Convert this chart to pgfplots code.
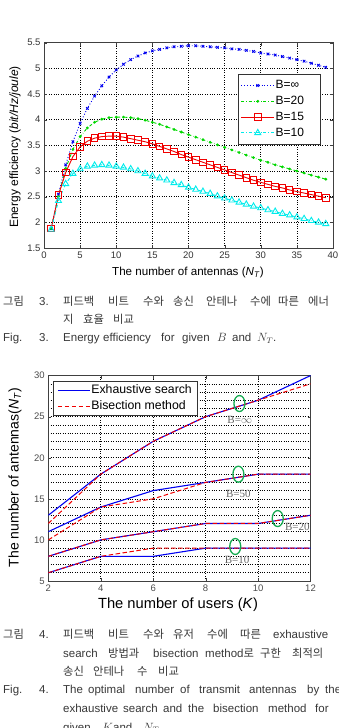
\documentclass[border=0pt]{standalone}
\usepackage{fontspec}
\setmainfont{Liberation Sans}
\newfontfamily\kr{Noto Sans CJK KR}
\newfontfamily\serifb{Liberation Serif}
\usepackage{pgfplots}
\usepackage{pgfplotstable}
\pgfplotsset{compat=1.18}

\definecolor{mgreen}{RGB}{0,215,0}
\definecolor{mcyan}{RGB}{0,235,235}
\definecolor{mblue}{RGB}{0,0,240}
\definecolor{mred}{RGB}{240,0,0}
\definecolor{ringgreen}{RGB}{20,170,80}
\definecolor{captext}{RGB}{55,55,55}

% Energy efficiency versus number of transmit antennas
\pgfplotstableread{
N inf b20 b15 b10
1 1.88 1.88 1.88 1.86
2 2.55 2.50 2.53 2.42
3 3.12 3.05 2.97 2.75
4 3.57 3.42 3.28 2.95
5 3.93 3.67 3.47 3.04
6 4.22 3.84 3.58 3.09
7 4.46 3.95 3.64 3.11
8 4.66 4.01 3.67 3.12
9 4.83 4.04 3.68 3.11
10 4.97 4.05 3.68 3.09
11 5.08 4.05 3.66 3.07
12 5.17 4.04 3.63 3.04
13 5.24 4.02 3.60 3.00
14 5.30 3.99 3.57 2.95
15 5.34 3.95 3.53 2.90
16 5.37 3.91 3.48 2.86
17 5.40 3.86 3.43 2.82
18 5.42 3.81 3.38 2.77
19 5.43 3.76 3.32 2.73
20 5.44 3.71 3.27 2.68
21 5.44 3.66 3.22 2.64
22 5.43 3.61 3.17 2.60
23 5.42 3.56 3.12 2.56
24 5.41 3.51 3.07 2.51
25 5.40 3.46 3.02 2.47
26 5.38 3.41 2.97 2.43
27 5.37 3.36 2.92 2.39
28 5.35 3.31 2.87 2.35
29 5.33 3.26 2.82 2.31
30 5.30 3.21 2.78 2.28
31 5.28 3.17 2.74 2.24
32 5.26 3.12 2.70 2.21
33 5.23 3.08 2.67 2.17
34 5.20 3.04 2.63 2.14
35 5.17 3.00 2.60 2.10
36 5.14 2.96 2.57 2.07
37 5.10 2.92 2.54 2.03
38 5.06 2.88 2.51 2.00
39 5.02 2.84 2.48 1.97
}\eetable

% Optimal number of antennas versus number of users
\pgfplotstableread{
K exinf biinf ex50 bi50 ex20 bi20 ex10 bi10
2 13 12 11 10 8 8 6 6
4 18 18 14 14 10 10 8 8
6 22 22 16 15 11 11 8 9
8 25 25 17 17 12 12 9 9
10 27 27 18 18 12 12 9 9
12 30 29 18 18 13 13 9 9
}\nttable

\newcommand{\w}[3]{\node[anchor=base west,inner sep=0pt,text=captext] at (#1pt,#2pt) {#3};}
\newcommand{\kf}{\kr\fontsize{11.3}{12}\selectfont}
\newcommand{\lf}{\fontsize{11.5}{12}\selectfont}
\newcommand{\legw}[1]{\makebox[40pt][l]{#1}}

\begin{document}
\begin{tikzpicture}
\useasboundingbox (0,0) rectangle (339pt,728pt);
\clip (0,0) rectangle (339pt,728pt);

\begin{axis}[
  at={(44pt,480pt)}, anchor=south west,
  scale only axis, width=289pt, height=205.3pt,
  xmin=0, xmax=40, ymin=1.5, ymax=5.5,
  xtick={0,5,...,40}, ytick={1.5,2,...,5.5},
  grid=major, major grid style={black, dotted, line width=0.6pt},
  tick align=inside, major tick length=3pt,
  axis line style={black!75},
  tick style={black!75},
  ticklabel style={font=\fontsize{9.5}{10}\selectfont, text=black!80},
  /pgf/number format/assume math mode=true,
  legend style={at={(0.670,0.848)}, anchor=north west,
    draw=black!80, fill=white, font=\fontsize{12}{13}\selectfont,
    inner xsep=3pt, inner ysep=3.5pt, row sep=0pt,
    nodes={inner xsep=1pt, inner ysep=0pt, minimum height=15.8pt},
    /tikz/every even column/.append style={column sep=3pt}},
  legend cell align=left,
  legend image code/.code={\draw[mark repeat=2,mark phase=2,#1] plot coordinates {(0pt,0pt) (16.5pt,0pt) (33pt,0pt)};},
]
\addplot[mblue, dotted, line width=0.9pt, mark=x, mark size=1.8pt, mark options={solid}] table[x=N,y=inf] {\eetable};
\addlegendentry{\legw{B=∞}}
\addplot[mgreen, dash dot, line width=0.9pt, mark=*, mark size=0.9pt, mark options={solid}] table[x=N,y=b20] {\eetable};
\addlegendentry{\legw{B=20}}
\addplot[mred, solid, line width=0.9pt, mark=square, mark size=3.3pt, mark options={solid}] table[x=N,y=b15] {\eetable};
\addlegendentry{\legw{B=15}}
\addplot[mcyan, dash dot, line width=0.9pt, mark=triangle, mark size=3.5pt, mark options={solid}] table[x=N,y=b10] {\eetable};
\addlegendentry{\legw{B=10}}
\end{axis}

\node[rotate=90, font=\fontsize{12}{13}\selectfont] at (15pt,581pt) {Energy efficiency (\textit{bit/Hz/joule})};
\node[font=\fontsize{11.6}{12}\selectfont] at (188pt,455pt) {The number of antennas (\textit{N}\textsubscript{\textit{T}})};

% caption of the first figure
\w{3}{422}{\kf 그림} \w{39}{422}{\lf 3.} \w{63}{422}{\kf 피드백} \w{108}{422}{\kf 비트}
\w{143}{422}{\kf 수와} \w{173}{422}{\kf 송신} \w{206}{422}{\kf 안테나} \w{250}{422}{\kf 수에}
\w{278}{422}{\kf 따른} \w{308}{422}{\kf 에너}
\w{63}{404}{\kf 지} \w{83}{404}{\kf 효율} \w{113}{404}{\kf 비교}
\w{3}{386}{\lf Fig.} \w{39}{386}{\lf 3.} \w{63}{386}{\lf Energy} \w{103}{386}{\lf efficiency}
\w{161}{386}{\lf for} \w{182}{386}{\lf given} \w{217}{386}{\lf $B$} \w{232}{386}{\lf and} \w{257}{386}{\lf $N_T$.}

\begin{axis}[
  at={(48.3pt,147pt)}, anchor=south west,
  scale only axis, width=262.2pt, height=205.4pt,
  xmin=2, xmax=12, ymin=5, ymax=30,
  xtick={2,4,...,12}, ytick={5,10,...,30}, minor ytick={6,...,29},
  grid=both, major grid style={black, dotted, line width=0.6pt},
  minor grid style={black, dotted, line width=0.6pt},
  tick align=inside, major tick length=3pt, minor tick length=0pt,
  axis line style={black!75},
  tick style={black!75},
  ticklabel style={font=\fontsize{9.5}{10}\selectfont, text=black!70},
  /pgf/number format/assume math mode=true,
  legend style={at={(0.017,0.974)}, anchor=north west,
    draw=black!80, fill=white, font=\fontsize{12.3}{13}\selectfont,
    inner xsep=4.3pt, inner ysep=1pt, row sep=0pt,
    nodes={inner xsep=1pt, inner ysep=0pt, minimum height=16pt},
    /tikz/every even column/.append style={column sep=1pt}},
  legend cell align=left,
  legend image code/.code={\draw[#1] (0pt,0pt) -- (32pt,0pt);},
]
\addplot[mblue, line width=1.1pt] table[x=K,y=exinf] {\nttable};
\addlegendentry{Exhaustive search}
\addplot[mred, line width=1pt, dash pattern=on 4.5pt off 2.5pt] table[x=K,y=biinf] {\nttable};
\addlegendentry{Bisection method}
\addplot[mblue, line width=1.1pt, forget plot] table[x=K,y=ex50] {\nttable};
\addplot[mred, line width=1pt, dash pattern=on 4.5pt off 2.5pt, forget plot] table[x=K,y=bi50] {\nttable};
\addplot[mblue, line width=1.1pt, forget plot] table[x=K,y=ex20] {\nttable};
\addplot[mred, line width=1pt, dash pattern=on 4.5pt off 2.5pt, forget plot] table[x=K,y=bi20] {\nttable};
\addplot[mblue, line width=1.1pt, forget plot] table[x=K,y=ex10] {\nttable};
\addplot[mred, line width=1pt, dash pattern=on 4.5pt off 2.5pt, forget plot] table[x=K,y=bi10] {\nttable};

\draw[ringgreen, line width=1.3pt] (axis cs:9.29,26.6) ellipse [x radius=5.5pt, y radius=8pt];
\draw[ringgreen, line width=1.3pt] (axis cs:9.25,18.0) ellipse [x radius=5.5pt, y radius=8pt];
\draw[ringgreen, line width=1.3pt] (axis cs:10.75,12.6) ellipse [x radius=5.5pt, y radius=8pt];
\draw[ringgreen, line width=1.3pt] (axis cs:9.13,9.2) ellipse [x radius=5.5pt, y radius=8pt];
\node[text=black!60, font=\serifb\fontsize{11}{12}\selectfont] at (axis cs:9.3,24.6) {B=$\infty$};
\node[text=black!60, font=\serifb\fontsize{11}{12}\selectfont] at (axis cs:9.25,15.6) {B=50};
\node[text=black!60, font=\serifb\fontsize{11}{12}\selectfont] at (axis cs:11.5,11.6) {B=20};
\node[text=black!60, font=\serifb\fontsize{11}{12}\selectfont] at (axis cs:9.2,7.6) {B=10};
\end{axis}

\node[rotate=90, font=\fontsize{14}{15}\selectfont] at (15pt,250.5pt) {The number of antennas(\textit{N}\textsubscript{\textit{T}})};
\node[font=\fontsize{14.7}{15}\selectfont] at (178pt,123pt) {The number of users (\textit{K})};

% caption of the second figure
\w{3}{89}{\kf 그림} \w{39}{89}{\lf 4.} \w{63}{89}{\kf 피드백} \w{108}{89}{\kf 비트}
\w{143}{89}{\kf 수와} \w{173}{89}{\kf 유저} \w{207}{89}{\kf 수에} \w{240}{89}{\kf 따른}
\w{273}{89}{\lf exhaustive}
\w{63}{70}{\lf search} \w{108}{70}{\kf 방법과} \w{153}{70}{\lf bisection}
\w{205}{70}{\lf method{\kf 로}} \w{260}{70}{\kf 구한} \w{292}{70}{\kf 최적의}
\w{63}{52}{\kf 송신} \w{93}{52}{\kf 안테나} \w{137}{52}{\kf 수} \w{158}{52}{\kf 비교}
\w{3}{34}{\lf Fig.} \w{39}{34}{\lf 4.} \w{63}{34}{\lf The} \w{88}{34}{\lf optimal}
\w{135}{34}{\lf number} \w{180}{34}{\lf of} \w{199}{34}{\lf transmit} \w{249}{34}{\lf antennas}
\w{307}{34}{\lf by} \w{325}{34}{\lf the}
\w{63}{16}{\lf exhaustive} \w{123}{16}{\lf search} \w{163}{16}{\lf and} \w{188}{16}{\lf the}
\w{213}{16}{\lf bisection} \w{268}{16}{\lf method} \w{315}{16}{\lf for}
\w{63}{-3}{\lf given} \w{102}{-3}{\lf $K$} \w{113}{-3}{\lf and} \w{143}{-3}{\lf $N_T$}
\end{tikzpicture}
\end{document}
